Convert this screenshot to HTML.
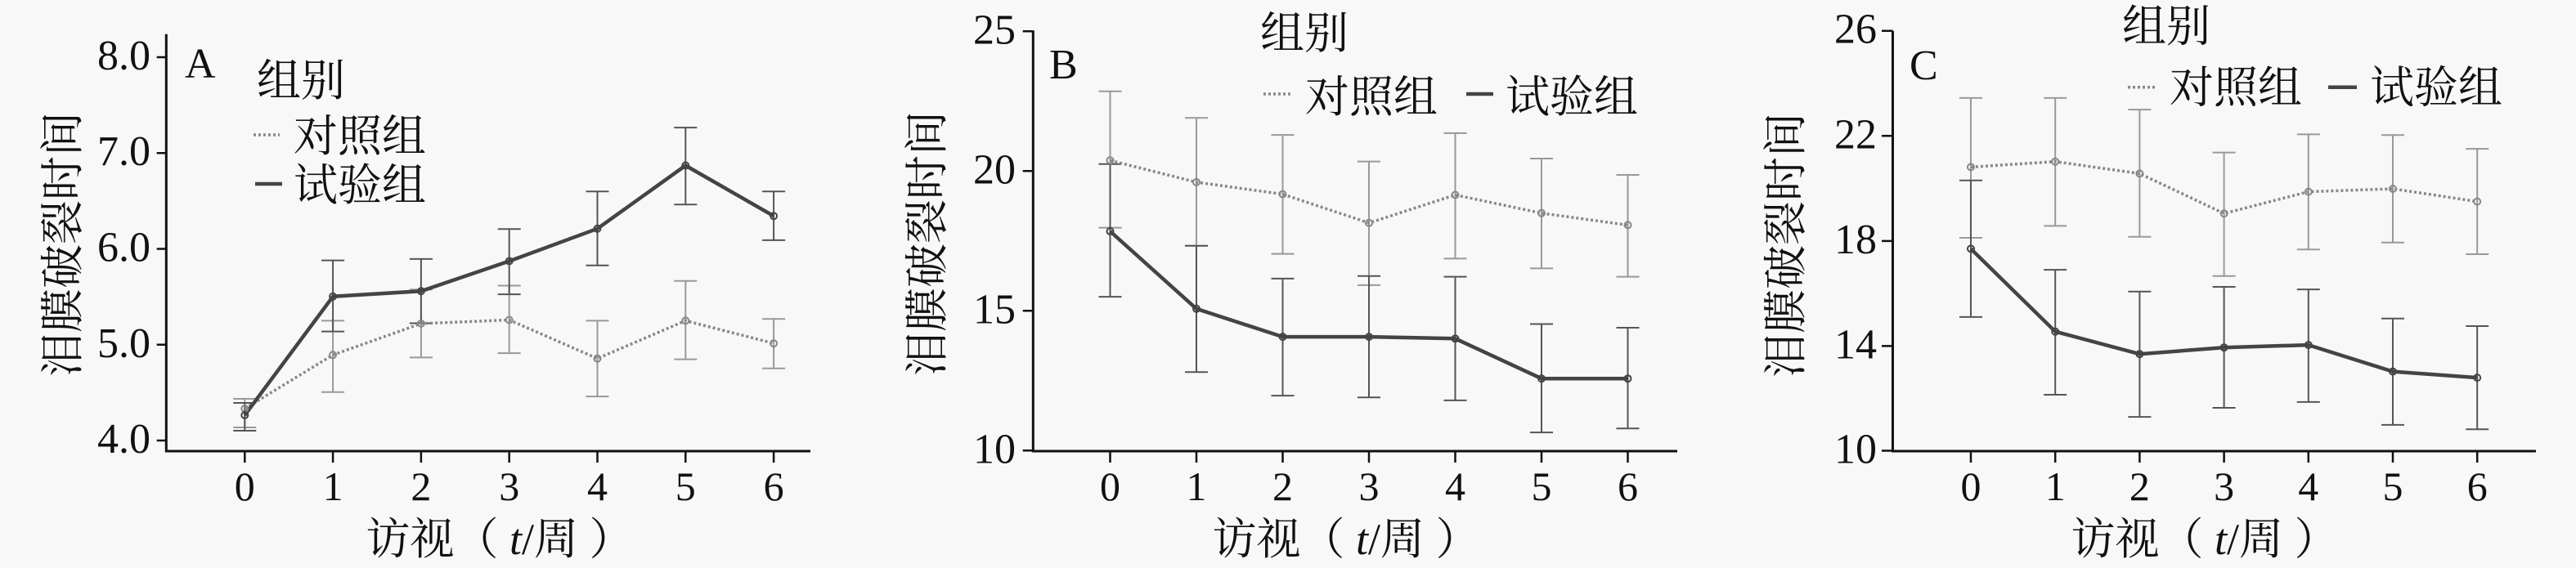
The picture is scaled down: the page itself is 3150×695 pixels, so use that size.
<!DOCTYPE html>
<html><head><meta charset="utf-8"><style>
html,body{margin:0;padding:0;background:#f8f8f8;}
svg{display:block;}
.num{font-family:"Liberation Serif",serif;fill:#111;}
.cjk{font-family:"Liberation Serif","Noto Serif CJK SC","Noto Sans CJK SC",serif;fill:#111;}
</style></head><body>
<svg width="3150" height="695" viewBox="0 0 3150 695" xmlns="http://www.w3.org/2000/svg">
<rect width="3150" height="695" fill="#f8f8f8"/>

<!-- ================= PANEL A ================= -->
<g fill="none" stroke="#111" stroke-width="3">
<path d="M203.3 41.7V552H991"/>
<path d="M191.7 70H203.3M191.7 187.25H203.3M191.7 304.5H203.3M191.7 421.75H203.3M191.7 539H203.3" stroke-width="2.5"/>
<path d="M299.3 552V566M407.1 552V566M514.9 552V566M622.7 552V566M730.5 552V566M838.3 552V566M946.1 552V566" stroke-width="2.5"/>
</g>
<g class="num" font-size="52" text-anchor="end">
<text x="184" y="85">8.0</text><text x="184" y="202">7.0</text><text x="184" y="319.5">6.0</text><text x="184" y="437">5.0</text><text x="184" y="554">4.0</text>
</g>
<g class="num" font-size="50" text-anchor="middle">
<text x="299.3" y="612">0</text><text x="407.1" y="612">1</text><text x="514.9" y="612">2</text><text x="622.7" y="612">3</text><text x="730.5" y="612">4</text><text x="838.3" y="612">5</text><text x="946.1" y="612">6</text>
</g>
<text class="num" x="226" y="95" font-size="52">A</text>
<text class="cjk" font-size="54" text-anchor="middle" dominant-baseline="central" transform="translate(77 299) rotate(-90)">泪膜破裂时间</text>
<text class="cjk" font-size="54" x="611" y="678" text-anchor="middle">访视（<tspan font-family="Liberation Serif"> </tspan><tspan font-family="Liberation Serif" font-style="italic">t</tspan><tspan font-family="Liberation Serif">/</tspan>周<tspan font-family="Liberation Serif"> </tspan>）</text>
<!-- legend A -->
<text class="cjk" font-size="54" x="314" y="117">组别</text>
<path d="M310 165H342" stroke="#888" stroke-width="3.5" stroke-dasharray="3 3" fill="none"/>
<text class="cjk" font-size="54" x="359" y="185">对照组</text>
<path d="M312 225H345" stroke="#444" stroke-width="4.5" fill="none"/>
<text class="cjk" font-size="54" x="359" y="245">试验组</text>
<!-- error bars A -->
<path fill="none" stroke="#999" stroke-width="2" d="M299.3 488V523M285.3 488H313.3M285.3 523H313.3M407.1 392.4V479.8M393.1 392.4H421.1M393.1 479.8H421.1M514.9 354.4V437.4M500.9 354.4H528.9M500.9 437.4H528.9M622.7 349.5V432.1M608.7 349.5H636.7M608.7 432.1H636.7M730.5 392.4V485.1M716.5 392.4H744.5M716.5 485.1H744.5M838.3 343.8V439.6M824.3 343.8H852.3M824.3 439.6H852.3M946.1 390.2V450.7M932.1 390.2H960.1M932.1 450.7H960.1"/>
<path fill="none" stroke="#555" stroke-width="2" d="M299.3 493V527M285.3 493H313.3M285.3 527H313.3M407.1 318.6V405.6M393.1 318.6H421.1M393.1 405.6H421.1M514.9 316.9V395.5M500.9 316.9H528.9M500.9 395.5H528.9M622.7 280.2V360.1M608.7 280.2H636.7M608.7 360.1H636.7M730.5 234.3V324.8M716.5 234.3H744.5M716.5 324.8H744.5M838.3 156.1V250.2M824.3 156.1H852.3M824.3 250.2H852.3M946.1 234.3V293.9M932.1 234.3H960.1M932.1 293.9H960.1"/>
<polyline fill="none" stroke="#888" stroke-width="3.5" stroke-dasharray="3 3" points="299.3,500 407.1,434.3 514.9,395.9 622.7,391.5 730.5,438.7 838.3,392.4 946.1,420.2"/>
<polyline fill="none" stroke="#444" stroke-width="4.5" stroke-linejoin="round" points="299.3,508 407.1,362.8 514.9,356.2 622.7,319.5 730.5,279.8 838.3,202.5 946.1,264.3"/>
<g fill="none" stroke="#888" stroke-width="2"><circle cx="299.3" cy="500" r="4"/><circle cx="407.1" cy="434.3" r="4"/><circle cx="514.9" cy="395.9" r="4"/><circle cx="622.7" cy="391.5" r="4"/><circle cx="730.5" cy="438.7" r="4"/><circle cx="838.3" cy="392.4" r="4"/><circle cx="946.1" cy="420.2" r="4"/></g>
<g fill="none" stroke="#444" stroke-width="2"><circle cx="299.3" cy="508" r="4"/><circle cx="407.1" cy="362.8" r="4"/><circle cx="514.9" cy="356.2" r="4"/><circle cx="622.7" cy="319.5" r="4"/><circle cx="730.5" cy="279.8" r="4"/><circle cx="838.3" cy="202.5" r="4"/><circle cx="946.1" cy="264.3" r="4"/></g>

<!-- ================= PANEL B ================= -->
<g fill="none" stroke="#111" stroke-width="3">
<path d="M1263.3 37.3V552H2051"/>
<path d="M1250.7 38.3H1263.3M1250.7 209.3H1263.3M1250.7 380.3H1263.3M1250.7 551.3H1263.3" stroke-width="2.5"/>
<path d="M1357.5 552V566M1463 552V566M1568.5 552V566M1674 552V566M1779.5 552V566M1885 552V566M1990.5 552V566" stroke-width="2.5"/>
</g>
<g class="num" font-size="52" text-anchor="end">
<text x="1242" y="53.3">25</text><text x="1242" y="224.3">20</text><text x="1242" y="395.3">15</text><text x="1242" y="566.3">10</text>
</g>
<g class="num" font-size="50" text-anchor="middle">
<text x="1357.5" y="612">0</text><text x="1463" y="612">1</text><text x="1568.5" y="612">2</text><text x="1674" y="612">3</text><text x="1779.5" y="612">4</text><text x="1885" y="612">5</text><text x="1990.5" y="612">6</text>
</g>
<text class="num" x="1283" y="96" font-size="52">B</text>
<text class="cjk" font-size="54" text-anchor="middle" dominant-baseline="central" transform="translate(1134 298) rotate(-90)">泪膜破裂时间</text>
<text class="cjk" font-size="54" x="1646" y="678" text-anchor="middle">访视（<tspan font-family="Liberation Serif"> </tspan><tspan font-family="Liberation Serif" font-style="italic">t</tspan><tspan font-family="Liberation Serif">/</tspan>周<tspan font-family="Liberation Serif"> </tspan>）</text>
<text class="cjk" font-size="54" x="1541" y="59">组别</text>
<path d="M1545 115H1580" stroke="#888" stroke-width="3.5" stroke-dasharray="3 3" fill="none"/>
<text class="cjk" font-size="54" x="1596" y="137">对照组</text>
<path d="M1793 115H1826" stroke="#444" stroke-width="4.5" fill="none"/>
<text class="cjk" font-size="54" x="1841" y="137">试验组</text>
<path fill="none" stroke="#999" stroke-width="2" d="M1357.5 111.7V278.6M1343.5 111.7H1371.5M1343.5 278.6H1371.5M1463 144.2V300.8M1449 144.2H1477M1449 300.8H1477M1568.5 165.1V310.6M1554.5 165.1H1582.5M1554.5 310.6H1582.5M1674 197.6V348.9M1660 197.6H1688M1660 348.9H1688M1779.5 162.9V316.4M1765.5 162.9H1793.5M1765.5 316.4H1793.5M1885 194V328.4M1871 194H1899M1871 328.4H1899M1990.5 214V338.6M1976.5 214H2004.5M1976.5 338.6H2004.5"/>
<path fill="none" stroke="#555" stroke-width="2" d="M1357.5 200.7V363.1M1343.5 200.7H1371.5M1343.5 363.1H1371.5M1463 300.8V455.2M1449 300.8H1477M1449 455.2H1477M1568.5 340.9V484.1M1554.5 340.9H1582.5M1554.5 484.1H1582.5M1674 337.7V486.3M1660 337.7H1688M1660 486.3H1688M1779.5 338.6V489.9M1765.5 338.6H1793.5M1765.5 489.9H1793.5M1885 396.5V529.1M1871 396.5H1899M1871 529.1H1899M1990.5 401V524.2M1976.5 401H2004.5M1976.5 524.2H2004.5"/>
<polyline fill="none" stroke="#888" stroke-width="3.5" stroke-dasharray="3 3" points="1357.5,196.3 1463,222.9 1568.5,237.6 1674,272.8 1779.5,238.5 1885,260.8 1990.5,275.4"/>
<polyline fill="none" stroke="#444" stroke-width="4.5" stroke-linejoin="round" points="1357.5,283 1463,377.8 1568.5,412.1 1674,412.1 1779.5,414.3 1885,463.2 1990.5,463.2"/>
<g fill="none" stroke="#888" stroke-width="2"><circle cx="1357.5" cy="196.3" r="4"/><circle cx="1463" cy="222.9" r="4"/><circle cx="1568.5" cy="237.6" r="4"/><circle cx="1674" cy="272.8" r="4"/><circle cx="1779.5" cy="238.5" r="4"/><circle cx="1885" cy="260.8" r="4"/><circle cx="1990.5" cy="275.4" r="4"/></g>
<g fill="none" stroke="#444" stroke-width="2"><circle cx="1357.5" cy="283" r="4"/><circle cx="1463" cy="377.8" r="4"/><circle cx="1568.5" cy="412.1" r="4"/><circle cx="1674" cy="412.1" r="4"/><circle cx="1779.5" cy="414.3" r="4"/><circle cx="1885" cy="463.2" r="4"/><circle cx="1990.5" cy="463.2" r="4"/></g>

<!-- ================= PANEL C ================= -->
<g fill="none" stroke="#111" stroke-width="3">
<path d="M2314.5 37.7V552H3101"/>
<path d="M2301 37.7H2314.5M2301 166.3H2314.5M2301 294.9H2314.5M2301 423.4H2314.5M2301 551.5H2314.5" stroke-width="2.5"/>
<path d="M2410 552V566M2513.2 552V566M2616.4 552V566M2719.6 552V566M2822.8 552V566M2926 552V566M3029.2 552V566" stroke-width="2.5"/>
</g>
<g class="num" font-size="52" text-anchor="end">
<text x="2295" y="52.7">26</text><text x="2295" y="181.3">22</text><text x="2295" y="309.9">18</text><text x="2295" y="438.4">14</text><text x="2295" y="566.5">10</text>
</g>
<g class="num" font-size="50" text-anchor="middle">
<text x="2410" y="612">0</text><text x="2513.2" y="612">1</text><text x="2616.4" y="612">2</text><text x="2719.6" y="612">3</text><text x="2822.8" y="612">4</text><text x="2926" y="612">5</text><text x="3029.2" y="612">6</text>
</g>
<text class="num" x="2335" y="97" font-size="52">C</text>
<text class="cjk" font-size="54" text-anchor="middle" dominant-baseline="central" transform="translate(2184 300) rotate(-90)">泪膜破裂时间</text>
<text class="cjk" font-size="54" x="2696" y="678" text-anchor="middle">访视（<tspan font-family="Liberation Serif"> </tspan><tspan font-family="Liberation Serif" font-style="italic">t</tspan><tspan font-family="Liberation Serif">/</tspan>周<tspan font-family="Liberation Serif"> </tspan>）</text>
<text class="cjk" font-size="54" x="2595" y="50.5">组别</text>
<path d="M2602 106.7H2635" stroke="#888" stroke-width="3.5" stroke-dasharray="3 3" fill="none"/>
<text class="cjk" font-size="54" x="2653" y="125.5">对照组</text>
<path d="M2847 106.7H2882" stroke="#444" stroke-width="4.5" fill="none"/>
<text class="cjk" font-size="54" x="2898" y="125.5">试验组</text>
<path fill="none" stroke="#999" stroke-width="2" d="M2410 119.9V291M2396 119.9H2424M2396 291H2424M2513.2 119.9V276.4M2499.2 119.9H2527.2M2499.2 276.4H2527.2M2616.4 134.1V289.7M2602.4 134.1H2630.4M2602.4 289.7H2630.4M2719.6 186.6V337.7M2705.6 186.6H2733.6M2705.6 337.7H2733.6M2822.8 164.4V305.2M2808.8 164.4H2836.8M2808.8 305.2H2836.8M2926 165.3V296.8M2912 165.3H2940M2912 296.8H2940M3029.2 182.1V311M3015.2 182.1H3043.2M3015.2 311H3043.2"/>
<path fill="none" stroke="#555" stroke-width="2" d="M2410 220.8V387.9M2396 220.8H2424M2396 387.9H2424M2513.2 330.1V483M2499.2 330.1H2527.2M2499.2 483H2527.2M2616.4 356.8V510.1M2602.4 356.8H2630.4M2602.4 510.1H2630.4M2719.6 351V499M2705.6 351H2733.6M2705.6 499H2733.6M2822.8 354.1V491.9M2808.8 354.1H2836.8M2808.8 491.9H2836.8M2926 389.7V519.9M2912 389.7H2940M2912 519.9H2940M3029.2 399V525.2M3015.2 399H3043.2M3015.2 525.2H3043.2"/>
<polyline fill="none" stroke="#888" stroke-width="3.5" stroke-dasharray="3 3" points="2410,204.4 2513.2,197.7 2616.4,212.4 2719.6,261.2 2822.8,234.6 2926,231 3029.2,246.6"/>
<polyline fill="none" stroke="#444" stroke-width="4.5" stroke-linejoin="round" points="2410,304.4 2513.2,405.7 2616.4,433.2 2719.6,425.2 2822.8,422.1 2926,454.6 3029.2,462.1"/>
<g fill="none" stroke="#888" stroke-width="2"><circle cx="2410" cy="204.4" r="4"/><circle cx="2513.2" cy="197.7" r="4"/><circle cx="2616.4" cy="212.4" r="4"/><circle cx="2719.6" cy="261.2" r="4"/><circle cx="2822.8" cy="234.6" r="4"/><circle cx="2926" cy="231" r="4"/><circle cx="3029.2" cy="246.6" r="4"/></g>
<g fill="none" stroke="#444" stroke-width="2"><circle cx="2410" cy="304.4" r="4"/><circle cx="2513.2" cy="405.7" r="4"/><circle cx="2616.4" cy="433.2" r="4"/><circle cx="2719.6" cy="425.2" r="4"/><circle cx="2822.8" cy="422.1" r="4"/><circle cx="2926" cy="454.6" r="4"/><circle cx="3029.2" cy="462.1" r="4"/></g>
</svg>
</body></html>
